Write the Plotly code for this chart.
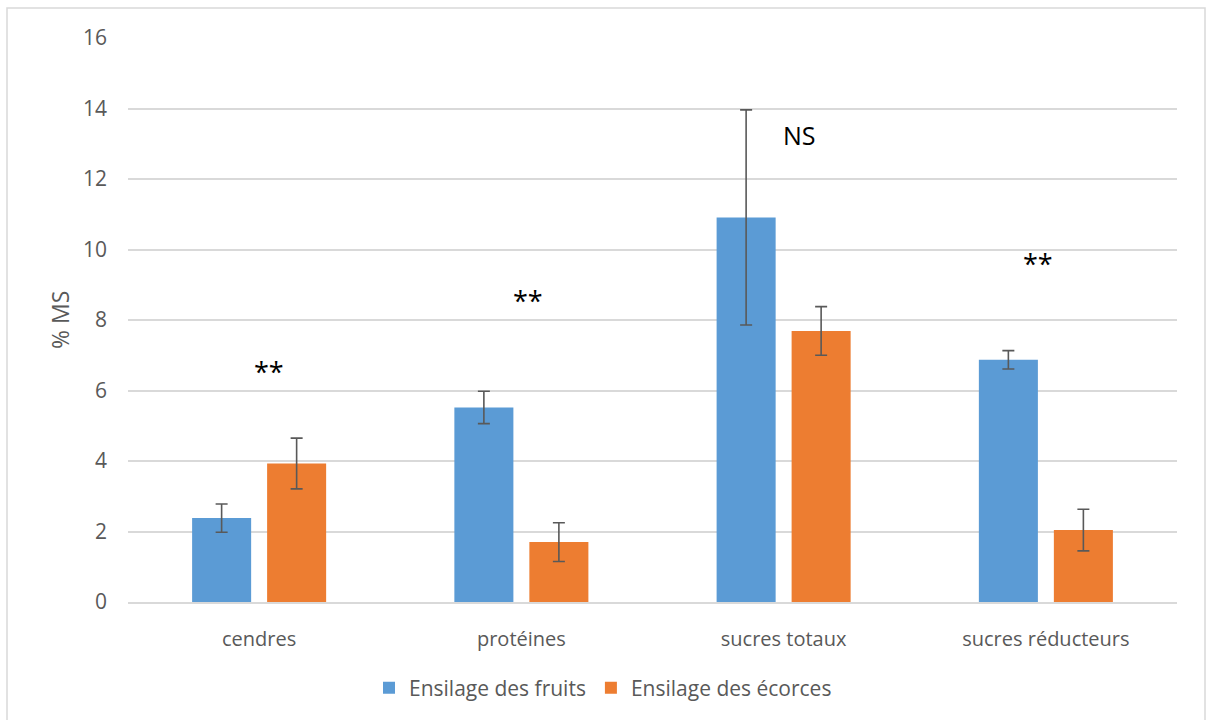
import plotly.graph_objects as go

categories = ["cendres", "protéines", "sucres totaux", "sucres réducteurs"]
fruits = [2.38, 5.52, 10.91, 6.87]
fruits_err = [0.40, 0.46, 3.05, 0.26]
ecorces = [3.93, 1.70, 7.69, 2.04]
ecorces_err = [0.72, 0.55, 0.69, 0.59]
series_names = ["Ensilage des fruits", "Ensilage des écorces"]
signif_labels = ["**", "**", "NS", "**"]
signif_y = [6.55, 8.55, 13.25, 9.6]
signif_dx = [0.038, 0.025, 0.062, -0.03]

BLUE = "#5B9BD5"
ORANGE = "#ED7D31"
GRID = "#D9D9D9"
TXT = "#595959"
FONT = "Open Sans"

W, H = 1206, 720
ML, MR, MT, MB = 128, 29, 38, 118
PW = W - ML - MR
PH = H - MT - MB

err_style = dict(type="data", color="#595959", thickness=1.6, width=6)

fig = go.Figure()
fig.add_trace(go.Bar(
    x=categories, y=fruits, name=series_names[0], marker_color=BLUE,
    marker_line_width=0,
    error_y=dict(array=fruits_err, **err_style),
))
fig.add_trace(go.Bar(
    x=categories, y=ecorces, name=series_names[1], marker_color=ORANGE,
    marker_line_width=0,
    error_y=dict(array=ecorces_err, **err_style),
))

for i, (lab, yv, dx) in enumerate(zip(signif_labels, signif_y, signif_dx)):
    fig.add_annotation(
        x=i + dx, y=yv, text=lab, showarrow=False,
        font=dict(family=FONT, size=25 if lab == "NS" else 27, color="#000000"),
        xanchor="center", yanchor="middle",
    )

# y-axis title
fig.add_annotation(
    xref="paper", yref="paper", x=(60 - ML) / PW, y=0.5,
    text="% MS", textangle=-90, showarrow=False,
    font=dict(family=FONT, size=23, color=TXT),
    xanchor="center", yanchor="middle",
)

# chart frame
fig.add_shape(
    type="rect", xref="paper", yref="paper",
    x0=(7 - ML) / PW, x1=(1205 - ML) / PW,
    y0=(H - 730 - MB) / PH, y1=(H - 8 - MB) / PH,
    line=dict(color=GRID, width=1.5), fillcolor="rgba(0,0,0,0)", layer="below",
)

fig.update_layout(
    width=W, height=H,
    margin=dict(l=ML, r=MR, t=MT, b=MB),
    paper_bgcolor="white", plot_bgcolor="white",
    barmode="group", bargap=0.428, bargroupgap=0.213,
    font=dict(family=FONT, size=20, color=TXT),
    showlegend=True,
    legend=dict(
        orientation="h", xref="container", yref="container",
        x=0.5, xanchor="center", y=(720 - 688) / 720, yanchor="middle",
        font=dict(family=FONT, size=21, color=TXT),
        itemwidth=30, traceorder="normal",
    ),
)
fig.update_xaxes(
    showgrid=False, showline=True, linecolor=GRID, linewidth=1.5,
    ticks="", ticklabelstandoff=18,
    tickfont=dict(family=FONT, size=20, color=TXT),
)
fig.update_yaxes(
    range=[0, 16], dtick=2, showgrid=True, gridcolor=GRID, gridwidth=1.5,
    zeroline=False, showline=False, ticks="", ticklabelstandoff=20,
    tickfont=dict(family=FONT, size=21, color=TXT),
)

fig.write_html("out.html")
